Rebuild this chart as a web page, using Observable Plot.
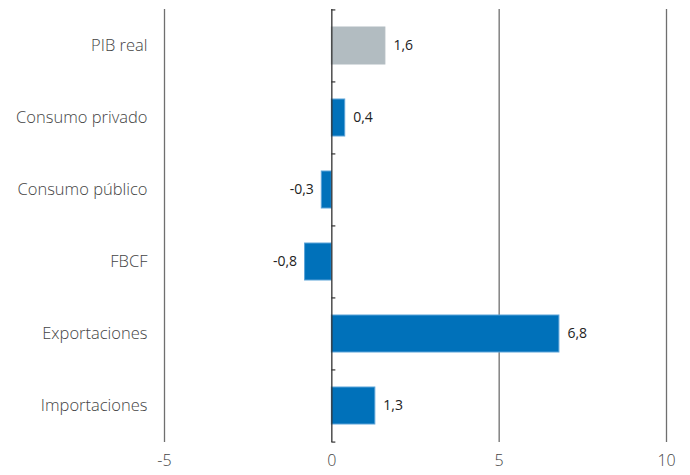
<!DOCTYPE html>
<html>
<head>
<meta charset="utf-8">
<script src="https://cdn.jsdelivr.net/npm/d3@7"></script>
<script src="https://cdn.jsdelivr.net/npm/@observablehq/plot@0.6"></script>
<style>
  html, body { margin: 0; padding: 0; background: #fff; }
  #chart svg { display: block; }
</style>
</head>
<body>
<div id="chart"></div>
<script>
const categories = ["PIB real", "Consumo privado", "Consumo público", "FBCF", "Exportaciones", "Importaciones"];
const values = [1.6, 0.4, -0.3, -0.8, 6.8, 1.3];
const xTicks = [-5, 0, 5, 10];
const highlight = ["PIB real"];

const data = categories.map((c, i) => ({category: c, value: values[i]}));
const fmt = v => d3.format(".1f")(v).replace(".", ",").replace("−", "-");

const W = 690, H = 475, mT = 9, mB = 33;
const step = (H - mT - mB) / categories.length;

const chart = Plot.plot({
  width: W,
  height: H,
  marginTop: mT,
  marginBottom: mB,
  marginLeft: 164,
  marginRight: 24,
  style: {fontFamily: "'Open Sans', sans-serif", background: "#fff", color: "#444"},
  x: {domain: [-5, 10], ticks: xTicks, label: null},
  y: {domain: categories, paddingInner: 0.49, paddingOuter: 0.245, label: null},
  marks: [
    Plot.ruleX(xTicks.filter(t => t !== 0), {x: d => d, stroke: "#6f6f6f", strokeWidth: 1.3}),
    Plot.barX(data, {
      y: "category", x: "value",
      fill: d => highlight.includes(d.category) ? "#b2bcc1" : "#0071ba",
      stroke: d => highlight.includes(d.category) ? "#b2bcc1" : "#5ba3d8",
      strokeWidth: 1
    }),
    Plot.ruleX([0], {stroke: "#333", strokeWidth: 1.3}),
    Plot.ruleY(categories, {y: d => d, x1: 0, x2: 0.12, dy: -step / 2, stroke: "#333", strokeWidth: 1.2}),
    Plot.ruleY(categories.slice(-1), {y: d => d, x1: 0, x2: 0.12, dy: step / 2, stroke: "#333", strokeWidth: 1.2}),
    Plot.text(data.filter(d => d.value >= 0), {
      y: "category", x: "value", text: d => fmt(d.value),
      textAnchor: "start", dx: 8, fontSize: 14, fontWeight: 500, fill: "#222"
    }),
    Plot.text(data.filter(d => d.value < 0), {
      y: "category", x: "value", text: d => fmt(d.value),
      textAnchor: "end", dx: -8, fontSize: 14, fontWeight: 500, fill: "#222"
    }),
    Plot.axisX(xTicks, {tickSize: 0, tickPadding: 12, fontSize: 16, fill: "#444", tickFormat: d => String(d).replace("−", "-"), fontWeight: 300}),
    Plot.axisY({tickSize: 0, tickPadding: 17, fontSize: 16.5, fill: "#444", fontWeight: 300})
  ]
});

document.getElementById("chart").appendChild(chart);
</script>
</body>
</html>
